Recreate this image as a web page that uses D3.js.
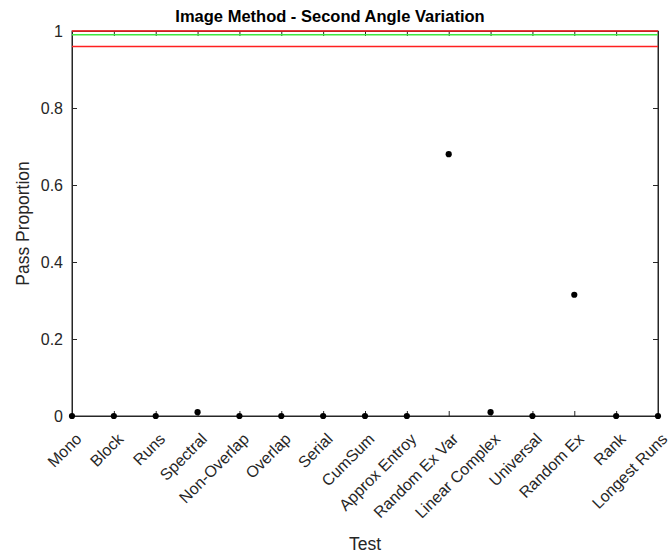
<!DOCTYPE html>
<html>
<head>
<meta charset="utf-8">
<script src="https://cdn.jsdelivr.net/npm/d3@7"></script>
<style>
  body { margin: 0; background: #fff; }
  svg { display: block; }
  text { font-family: "Liberation Sans", Arial, Helvetica, sans-serif; }
</style>
</head>
<body>
<svg id="chart" width="670" height="558"></svg>
<script>
const categories = ["Mono", "Block", "Runs", "Spectral", "Non-Overlap", "Overlap", "Serial", "CumSum", "Approx Entroy", "Random Ex Var", "Linear Complex", "Universal", "Random Ex", "Rank", "Longest Runs"];
const passProportion = [0, 0, 0, 0.01, 0, 0, 0, 0, 0, 0.68, 0.01, 0, 0.315, 0, 0];
const yTicks = [0, 0.2, 0.4, 0.6, 0.8, 1];
const upperLimit = [1.0];
const expected = [0.99];
const lowerLimit = [0.96];

const svg = d3.select("#chart");
const L = 72, R = 658, T = 31, B = 416;
const axisColor = "#262626";
const tickFont = 16;

const x = d3.scalePoint().domain(categories).range([L, R]);
const y = d3.scaleLinear().domain([0, 1]).range([B, T]);

// frame
svg.append("rect").attr("x", L).attr("y", T).attr("width", R - L).attr("height", B - T)
  .attr("fill", "none").attr("stroke", axisColor).attr("stroke-width", 1);

// bottom axis
const gx = svg.append("g").attr("transform", `translate(0,${B})`)
  .call(d3.axisBottom(x).tickSizeInner(-5).tickSizeOuter(0));
gx.select(".domain").attr("stroke", axisColor);
gx.selectAll(".tick line").attr("stroke", axisColor);
gx.selectAll(".tick text")
  .attr("fill", axisColor).attr("font-size", tickFont)
  .attr("text-anchor", "end")
  .attr("x", 0).attr("y", 0).attr("dy", 0)
  .attr("transform", "translate(10,24) rotate(-45)");

// top ticks
const gxt = svg.append("g").attr("transform", `translate(0,${T})`)
  .call(d3.axisTop(x).tickSizeInner(-5).tickSizeOuter(0).tickFormat(""));
gxt.select(".domain").attr("stroke", axisColor);
gxt.selectAll(".tick line").attr("stroke", axisColor);

// left axis
const gy = svg.append("g").attr("transform", `translate(${L},0)`)
  .call(d3.axisLeft(y).tickValues(yTicks).tickSizeInner(-5).tickSizeOuter(0).tickPadding(9)
    .tickFormat(d => d3.format("~g")(d)));
gy.select(".domain").attr("stroke", axisColor);
gy.selectAll(".tick line").attr("stroke", axisColor);
gy.selectAll(".tick text").attr("fill", axisColor).attr("font-size", tickFont);

// right ticks
const gyr = svg.append("g").attr("transform", `translate(${R},0)`)
  .call(d3.axisRight(y).tickValues(yTicks).tickSizeInner(-5).tickSizeOuter(0).tickFormat(""));
gyr.select(".domain").attr("stroke", axisColor);
gyr.selectAll(".tick line").attr("stroke", axisColor);

// reference lines
const refLines = [
  { v: upperLimit[0], c: "#ff2020" },
  { v: expected[0], c: "#40e840" },
  { v: lowerLimit[0], c: "#ff2020" }
];
svg.append("g").selectAll("line").data(refLines).join("line")
  .attr("x1", L).attr("x2", R)
  .attr("y1", d => y(d.v)).attr("y2", d => y(d.v))
  .attr("stroke", d => d.c).attr("stroke-width", 1.5);

// points
svg.append("g").selectAll("circle").data(categories).join("circle")
  .attr("cx", d => x(d))
  .attr("cy", (d, i) => y(passProportion[i]))
  .attr("r", 3.1)
  .attr("fill", "#000");

// title
svg.append("text").attr("x", 330).attr("y", 22)
  .attr("text-anchor", "middle").attr("font-size", 16.5).attr("font-weight", "bold")
  .attr("fill", "#000").text("Image Method - Second Angle Variation");

// x label
svg.append("text").attr("x", (L + R) / 2).attr("y", 550)
  .attr("text-anchor", "middle").attr("font-size", 17.5).attr("fill", axisColor).text("Test");

// y label
svg.append("text").attr("transform", `translate(29,${(T + B) / 2}) rotate(-90)`)
  .attr("text-anchor", "middle").attr("font-size", 17.5).attr("fill", axisColor).text("Pass Proportion");
</script>
</body>
</html>
